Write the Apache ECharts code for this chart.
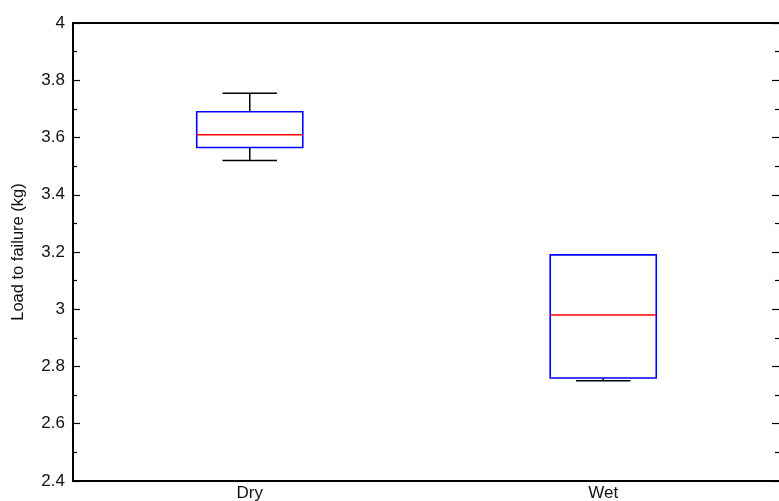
<!DOCTYPE html>
<html>
<head>
<meta charset="utf-8">
<script src="https://cdn.jsdelivr.net/npm/echarts@6/dist/echarts.min.js"></script>
<style>
  html, body { margin: 0; padding: 0; background: #fff; overflow: hidden; }
  #chart { width: 779px; height: 501px; }
</style>
</head>
<body>
<div id="chart"></div>
<script>
// Groups on the horizontal axis
var categories = ['Dry', 'Wet'];
// Box statistics per group (kg)
var whiskerLow  = [3.52, 2.75];
var quartileLow = [3.565, 2.76];
var medians     = [3.61, 2.98];
var quartileHigh = [3.69, 3.19];
var whiskerHigh = [3.755, 3.19];
// Vertical axis range and tick step
var yMin = 2.4;
var yMax = 4;
var yStep = 0.2;

var rows = categories.map(function (c, i) {
  return [i, whiskerLow[i], quartileLow[i], medians[i], quartileHigh[i], whiskerHigh[i]];
});

var font = 'Liberation Sans, Arial, sans-serif';

function renderBox(params, api) {
  var idx = api.value(0);
  var band = api.size([1, 0])[0];
  var boxHalf = band * 0.15;
  var capHalf = band * 0.077;
  var pLow = api.coord([idx, api.value(1)]);
  var pQ1 = api.coord([idx, api.value(2)]);
  var pMed = api.coord([idx, api.value(3)]);
  var pQ3 = api.coord([idx, api.value(4)]);
  var pHigh = api.coord([idx, api.value(5)]);
  var cx = pMed[0];
  var black = { stroke: '#000', lineWidth: 1.5, fill: null };
  var children = [];
  // upper whisker and cap (hidden when it coincides with the box edge)
  if (pHigh[1] < pQ3[1] - 0.5) {
    children.push({ type: 'line', shape: { x1: cx, y1: pHigh[1], x2: cx, y2: pQ3[1] }, style: black });
    children.push({ type: 'line', shape: { x1: cx - capHalf, y1: pHigh[1], x2: cx + capHalf, y2: pHigh[1] }, style: black });
  }
  // lower whisker and cap
  if (pLow[1] > pQ1[1] + 0.5) {
    children.push({ type: 'line', shape: { x1: cx, y1: pQ1[1], x2: cx, y2: pLow[1] }, style: black });
    children.push({ type: 'line', shape: { x1: cx - capHalf, y1: pLow[1], x2: cx + capHalf, y2: pLow[1] }, style: black });
  }
  // box
  children.push({
    type: 'rect',
    shape: { x: cx - boxHalf, y: pQ3[1], width: boxHalf * 2, height: pQ1[1] - pQ3[1] },
    style: { stroke: '#0000ff', lineWidth: 1.6, fill: null }
  });
  // median
  children.push({
    type: 'line',
    shape: { x1: cx - boxHalf, y1: pMed[1], x2: cx + boxHalf, y2: pMed[1] },
    style: { stroke: '#ff0000', lineWidth: 1.5 }
  });
  return { type: 'group', children: children };
}

var axisLineStyle = { color: '#000', width: 2 };
var tickStyle = { color: '#000', width: 1.2 };

var chart = echarts.init(document.getElementById('chart'));
chart.setOption({
  animation: false,
  backgroundColor: '#fff',
  grid: { left: 73, top: 23, width: 707, height: 458, containLabel: false, outerBoundsMode: 'none' },
  xAxis: [
    {
      type: 'category',
      data: categories,
      boundaryGap: true,
      position: 'bottom',
      axisLine: { lineStyle: axisLineStyle },
      axisTick: { show: false },
      axisLabel: { color: '#111', fontFamily: font, fontSize: 17, margin: 4 },
      splitLine: { show: false }
    },
    {
      type: 'category',
      data: categories,
      boundaryGap: true,
      position: 'top',
      axisLine: { lineStyle: axisLineStyle },
      axisTick: { show: false },
      axisLabel: { show: false },
      splitLine: { show: false }
    }
  ],
  yAxis: [
    {
      type: 'value',
      min: yMin, max: yMax, interval: yStep,
      position: 'left',
      name: 'Load to failure (kg)',
      nameLocation: 'middle',
      nameGap: 46,
      nameTextStyle: { color: '#111', fontFamily: font, fontSize: 16.5 },
      axisLine: { show: true, lineStyle: axisLineStyle },
      axisTick: { show: true, inside: true, length: 7, lineStyle: tickStyle },
      minorTick: { show: true, splitNumber: 2, length: 4, lineStyle: tickStyle },
      axisLabel: { color: '#111', fontFamily: font, fontSize: 17, margin: 8 },
      splitLine: { show: false }
    },
    {
      type: 'value',
      min: yMin, max: yMax, interval: yStep,
      position: 'right',
      axisLine: { show: true, lineStyle: axisLineStyle },
      axisTick: { show: true, inside: true, length: 8, lineStyle: tickStyle },
      minorTick: { show: true, splitNumber: 2, length: 5, lineStyle: tickStyle },
      axisLabel: { show: false },
      splitLine: { show: false }
    }
  ],
  series: [{
    type: 'custom',
    xAxisIndex: 0,
    yAxisIndex: 0,
    renderItem: renderBox,
    encode: { x: 0, y: [1, 2, 3, 4, 5] },
    data: rows
  }]
});
</script>
</body>
</html>
